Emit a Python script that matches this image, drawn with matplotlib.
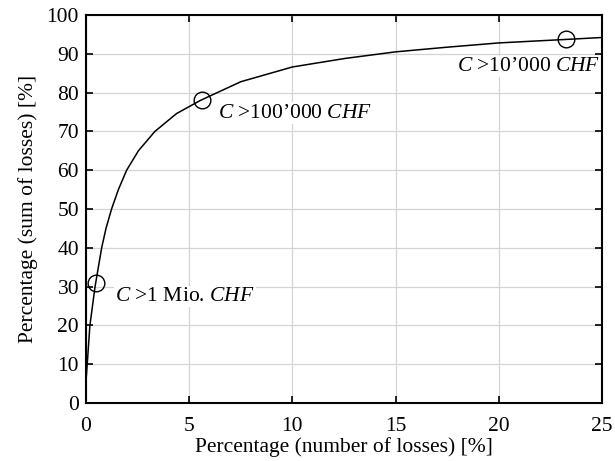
import matplotlib
matplotlib.use('Agg')
from matplotlib import pyplot as plt

# cumulative share of losses vs. share of number of losses
share_count = [0.02, 0.06, 0.19, 0.44, 0.60, 0.76, 0.97, 1.24, 1.57, 1.97, 2.54,
               3.34, 4.39, 5.55, 7.5, 10, 12.55, 15, 17.5, 20, 23.26, 25]
share_sum = [7, 10, 20, 30, 35, 40, 45, 50, 55, 60, 65,
             70, 74.6, 78.0, 82.8, 86.6, 88.8, 90.5, 91.7, 92.8, 93.7, 94.2]

# threshold markers
mark_x = [0.48, 5.6, 23.26]
mark_y = [31.0, 78.0, 93.7]
mark_labels = [r'$C$ >1 Mio. $CHF$', r'$C$ >100’000 $CHF$', r'$C$ >10’000 $CHF$']
label_pos = [(1.4, 27.4), (6.4, 74.7), (17.96, 86.7)]

FONT = 'Liberation Serif'
FONTSIZE = 15.5

plt.rcParams['font.family'] = FONT
plt.rcParams['mathtext.fontset'] = 'custom'
plt.rcParams['mathtext.rm'] = FONT
plt.rcParams['mathtext.it'] = FONT + ':italic'

fig = plt.figure(figsize=(6.15, 4.61), dpi=100)
ax = fig.add_axes([0.1398, 0.1258, 0.8391, 0.8417])

ax.plot(share_count, share_sum, color='black', linewidth=1.1, zorder=3)
ax.plot(mark_x, mark_y, 'o', markersize=12, markerfacecolor='none',
        markeredgecolor='black', markeredgewidth=1.0, zorder=4)

for text, (tx, ty) in zip(mark_labels, label_pos):
    ax.text(tx, ty, text, fontsize=FONTSIZE, ha='left', va='center', zorder=2,
            bbox=dict(facecolor='white', edgecolor='none', pad=1))

ax.set_xlim(0, 25)
ax.set_ylim(0, 100)
ax.set_xticks(range(0, 26, 5))
ax.set_yticks(range(0, 101, 10))
ax.grid(True, color='#d4d4d4', linewidth=0.9)
ax.set_axisbelow(True)
ax.tick_params(direction='in', top=True, right=True, length=5, width=1.2,
               labelsize=FONTSIZE)
ax.tick_params(axis='x', pad=10)
ax.tick_params(axis='y', pad=5)
for spine in ax.spines.values():
    spine.set_linewidth(1.5)

ax.set_xlabel('Percentage (number of losses) [%]', fontsize=FONTSIZE, labelpad=1)
ax.set_ylabel('Percentage (sum of losses) [%]', fontsize=FONTSIZE, labelpad=6)

plt.savefig('out.png', dpi=100)
